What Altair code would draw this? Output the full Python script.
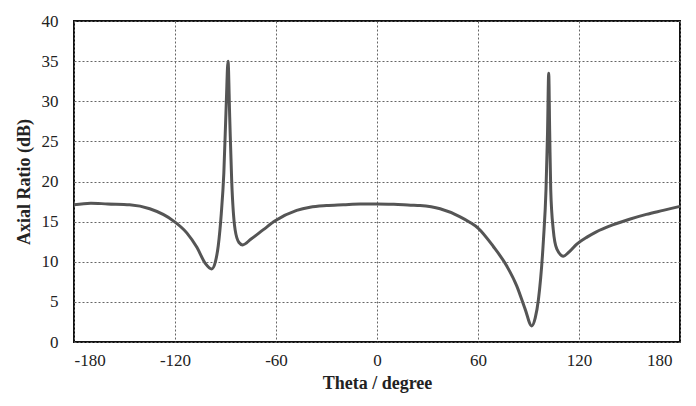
import altair as alt
import pandas as pd

theta = [-180, -170, -160, -147, -135, -121, -113, -107, -102, -98.2, -96, -94.3, -92.5, -91, -89.5, -88.5,
         -87.5, -86.3, -84.3, -82, -79.8, -75, -67.5, -60.5, -47.7, -39.8, -30, -20, -10, 0, 10, 20,
         25.6, 37.5, 49.4, 55.3, 60, 69.1, 77, 83, 88, 91.9, 94, 95.9, 98.9, 100.4, 101.3, 102,
         102.6, 103.2, 104.7, 106.8, 110.7, 114, 118.7, 125, 130, 140, 150, 160, 170, 180]
ar = [17.1, 17.3, 17.2, 17.1, 16.6, 15.1, 13.6, 11.8, 9.8, 9.1, 10.0, 12.0, 16.0, 21.0, 30.0, 35.0,
      28.0, 20.0, 14.0, 12.4, 12.1, 12.8, 14.0, 15.1, 16.4, 16.8, 17.0, 17.1, 17.2, 17.2, 17.15, 17.05,
      17.0, 16.6, 15.6, 14.9, 14.2, 11.9, 9.5, 7.0, 4.1, 2.0, 3.0, 5.3, 12.8, 19.0, 26.0, 33.5,
      26.0, 19.0, 14.0, 11.6, 10.7, 11.2, 12.2, 13.1, 13.7, 14.6, 15.3, 15.9, 16.4, 16.9]

df = pd.DataFrame({"theta": theta, "ar": ar})

serif = "Liberation Serif"

chart = alt.Chart(df).mark_line(color="#555555", strokeWidth=3, interpolate="monotone").encode(
    x=alt.X("theta:Q", title="Theta / degree",
            scale=alt.Scale(domain=[-180, 180], nice=False),
            axis=alt.Axis(values=[-180, -120, -60, 0, 60, 120, 180], labelPadding=10, titlePadding=6,
                          labelExpr="datum.value + ''",
                          labelOffset={"condition": {"test": "datum.value == 180", "value": -8}, "value": 0})),
    y=alt.Y("ar:Q", title="Axial Ratio (dB)",
            scale=alt.Scale(domain=[0, 40], nice=False),
            axis=alt.Axis(values=[0, 5, 10, 15, 20, 25, 30, 35, 40], labelPadding=16, titlePadding=8,
                          labelExpr="datum.value + ''")),
).properties(
    width=606, height=321,
    autosize=alt.AutoSizeParams(type="none"),
    padding={"left": 66, "top": 13, "right": 8, "bottom": 56},
).configure_view(
    stroke="#111111", strokeWidth=2
).configure_axis(
    domain=False, ticks=False,
    grid=True, gridColor="#666666", gridDash=[2, 2], gridWidth=1,
    labelFont=serif, labelFontSize=17, labelColor="#222222",
    titleFont=serif, titleFontSize=18, titleFontWeight="bold", titleColor="#222222",
)

chart.save("out.html", embed_options={"renderer": "svg", "actions": False})
